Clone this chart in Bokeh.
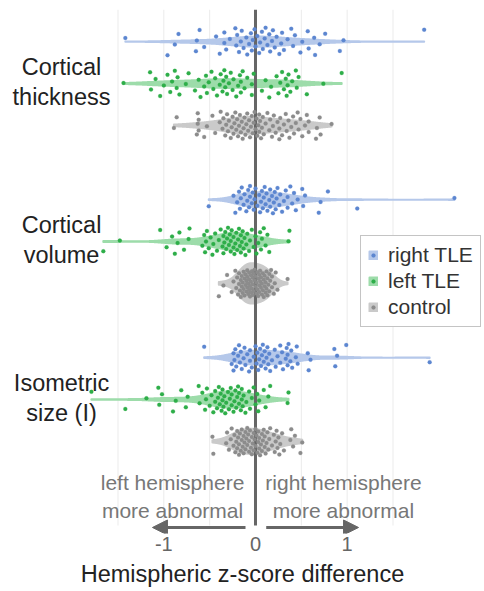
import numpy as np
from bokeh.plotting import figure
from bokeh.models import Range1d, FixedTicker, Legend, LegendItem, Arrow, NormalHead
from bokeh.core.properties import value
from bokeh.embed import file_html
from bokeh.resources import INLINE

# ---------------- data ----------------
measures = ["Cortical\nthickness", "Cortical\nvolume", "Isometric\nsize (I)"]
groups = ["right TLE", "left TLE", "control"]

right_thickness = [-1.42, -0.96, -0.88, -0.84, -0.65, -0.64, -0.61, -0.56, -0.43, -0.39, -0.34, -0.34, -0.32,
                   -0.28, -0.22, -0.21, -0.20, -0.18, -0.16, -0.15, -0.13, -0.10, -0.09, -0.07, -0.05, -0.04,
                   -0.03, -0.01, 0.00, 0.02, 0.04, 0.05, 0.07, 0.08, 0.10, 0.11, 0.13, 0.15, 0.16, 0.18, 0.19,
                   0.21, 0.23, 0.26, 0.28, 0.29, 0.31, 0.35, 0.39, 0.41, 0.43, 0.49, 0.51, 0.57, 0.58, 0.64,
                   0.65, 0.70, 0.76, 0.92, 0.96, 1.84]
right_volume = [-0.51, -0.24, -0.22, -0.20, -0.18, -0.17, -0.16, -0.15, -0.13, -0.12, -0.10, -0.09, -0.08,
                -0.07, -0.06, -0.06, -0.04, -0.03, -0.02, -0.01, 0.00, 0.02, 0.04, 0.05, 0.06, 0.07, 0.08,
                0.09, 0.10, 0.11, 0.12, 0.13, 0.15, 0.16, 0.16, 0.18, 0.19, 0.20, 0.21, 0.22, 0.23, 0.24,
                0.26, 0.27, 0.29, 0.31, 0.33, 0.35, 0.35, 0.38, 0.40, 0.42, 0.44, 0.46, 0.51, 0.52, 0.54,
                0.69, 0.71, 0.79, 1.11, 2.17]
right_isometric = [-0.56, -0.26, -0.24, -0.24, -0.23, -0.22, -0.21, -0.19, -0.18, -0.17, -0.16, -0.15, -0.13,
                   -0.12, -0.11, -0.09, -0.07, -0.06, -0.06, -0.04, -0.02, 0.00, 0.01, 0.02, 0.03, 0.04, 0.05,
                   0.06, 0.07, 0.08, 0.09, 0.10, 0.11, 0.12, 0.13, 0.14, 0.15, 0.16, 0.18, 0.21, 0.22, 0.24,
                   0.27, 0.27, 0.29, 0.30, 0.33, 0.34, 0.35, 0.35, 0.36, 0.38, 0.39, 0.40, 0.44, 0.45, 0.46,
                   0.57, 0.58, 0.60, 0.86, 0.87, 0.89, 0.99, 1.90]

left_thickness = [-1.44, -1.15, -1.14, -1.09, -1.04, -1.00, -0.96, -0.93, -0.91, -0.88, -0.86, -0.85, -0.83,
                  -0.76, -0.73, -0.66, -0.62, -0.60, -0.56, -0.54, -0.53, -0.51, -0.48, -0.46, -0.44, -0.42,
                  -0.39, -0.38, -0.36, -0.35, -0.34, -0.33, -0.32, -0.31, -0.29, -0.27, -0.25, -0.24, -0.21,
                  -0.19, -0.17, -0.16, -0.16, -0.14, -0.12, -0.09, -0.04, -0.04, -0.02, 0.07, 0.11, 0.15,
                  0.17, 0.23, 0.25, 0.27, 0.29, 0.31, 0.33, 0.34, 0.35, 0.36, 0.38, 0.40, 0.44, 0.45, 0.47,
                  0.56, 0.74, 0.94]
left_volume = [-1.66, -1.48, -1.04, -0.97, -0.91, -0.88, -0.85, -0.83, -0.78, -0.73, -0.72, -0.58, -0.56,
               -0.55, -0.54, -0.53, -0.51, -0.49, -0.47, -0.46, -0.44, -0.42, -0.40, -0.38, -0.36, -0.35,
               -0.35, -0.34, -0.33, -0.32, -0.31, -0.30, -0.29, -0.28, -0.27, -0.27, -0.26, -0.24, -0.24,
               -0.23, -0.22, -0.21, -0.20, -0.19, -0.18, -0.17, -0.16, -0.16, -0.15, -0.14, -0.13, -0.12,
               -0.11, -0.10, -0.09, -0.07, -0.06, -0.04, -0.02, 0.00, 0.01, 0.03, 0.05, 0.06, 0.07, 0.09,
               0.11, 0.13, 0.15, 0.36, 0.37]
left_isometric = [-1.79, -1.42, -1.19, -1.06, -1.05, -1.02, -0.90, -0.87, -0.81, -0.76, -0.74, -0.62, -0.61,
                  -0.58, -0.55, -0.54, -0.53, -0.50, -0.48, -0.46, -0.44, -0.44, -0.42, -0.41, -0.40, -0.39,
                  -0.38, -0.37, -0.36, -0.36, -0.35, -0.34, -0.33, -0.32, -0.30, -0.29, -0.28, -0.27, -0.26,
                  -0.26, -0.24, -0.23, -0.22, -0.21, -0.20, -0.19, -0.18, -0.18, -0.16, -0.15, -0.15, -0.14,
                  -0.13, -0.11, -0.10, -0.07, -0.06, -0.04, -0.02, 0.00, 0.02, 0.03, 0.04, 0.09, 0.11, 0.14,
                  0.16, 0.35, 0.36]

control_thickness = [-0.89, -0.86, -0.64, -0.63, -0.63, -0.62, -0.62, -0.56, -0.53, -0.47, -0.44, -0.39, -0.38,
                     -0.36, -0.35, -0.33, -0.32, -0.31, -0.30, -0.29, -0.27, -0.26, -0.25, -0.24, -0.23, -0.22,
                     -0.21, -0.20, -0.19, -0.18, -0.17, -0.16, -0.15, -0.14, -0.13, -0.12, -0.11, -0.10, -0.09,
                     -0.08, -0.07, -0.06, -0.05, -0.04, -0.03, -0.02, -0.01, 0.00, 0.01, 0.02, 0.03, 0.04, 0.04,
                     0.05, 0.06, 0.07, 0.08, 0.09, 0.11, 0.13, 0.15, 0.16, 0.18, 0.19, 0.20, 0.22, 0.24, 0.26,
                     0.26, 0.27, 0.29, 0.31, 0.33, 0.34, 0.36, 0.37, 0.39, 0.41, 0.42, 0.44, 0.46, 0.47, 0.49,
                     0.51, 0.54, 0.56, 0.58, 0.58, 0.66, 0.67, 0.70, 0.71, 0.83]
control_volume = [-0.40, -0.35, -0.31, -0.26, -0.24, -0.22, -0.21, -0.20, -0.19, -0.18, -0.18, -0.17, -0.16,
                  -0.16, -0.15, -0.15, -0.14, -0.14, -0.13, -0.13, -0.12, -0.12, -0.11, -0.11, -0.10, -0.10,
                  -0.09, -0.09, -0.09, -0.08, -0.08, -0.07, -0.07, -0.07, -0.06, -0.06, -0.05, -0.05, -0.05,
                  -0.04, -0.04, -0.03, -0.03, -0.03, -0.02, -0.02, -0.01, -0.01, 0.00, 0.00, 0.01, 0.01, 0.02,
                  0.02, 0.03, 0.03, 0.04, 0.04, 0.04, 0.05, 0.05, 0.06, 0.06, 0.07, 0.07, 0.08, 0.08, 0.09,
                  0.09, 0.10, 0.10, 0.11, 0.11, 0.12, 0.12, 0.13, 0.13, 0.14, 0.15, 0.15, 0.16, 0.17, 0.18,
                  0.18, 0.20, 0.21, 0.22, 0.24, 0.35]
control_isometric = [-0.47, -0.46, -0.32, -0.31, -0.29, -0.27, -0.26, -0.24, -0.23, -0.22, -0.21, -0.20, -0.20,
                     -0.19, -0.18, -0.18, -0.17, -0.16, -0.15, -0.15, -0.14, -0.13, -0.13, -0.12, -0.11, -0.11,
                     -0.10, -0.09, -0.09, -0.08, -0.07, -0.07, -0.06, -0.05, -0.04, -0.04, -0.03, -0.02, -0.02,
                     -0.01, 0.00, 0.00, 0.01, 0.02, 0.03, 0.03, 0.04, 0.04, 0.05, 0.06, 0.07, 0.07, 0.08, 0.09,
                     0.10, 0.10, 0.11, 0.12, 0.13, 0.14, 0.15, 0.16, 0.18, 0.20, 0.21, 0.22, 0.23, 0.24, 0.25,
                     0.26, 0.27, 0.29, 0.31, 0.38, 0.39, 0.41, 0.43, 0.49, 0.51]

series = {
    "right TLE": [right_thickness, right_volume, right_isometric],
    "left TLE": [left_thickness, left_volume, left_isometric],
    "control": [control_thickness, control_volume, control_isometric],
}

x_ticks = [-1, 0, 1]
x_tick_labels = ["-1", "0", "1"]
grid_values = [-1.5, -1.0, -0.5, 0.5, 1.0, 1.5]
x_title = "Hemispheric z-score difference"
direction_notes = ["left hemisphere\nmore abnormal", "right hemisphere\nmore abnormal"]

# ---------------- style ----------------
point_color = {"right TLE": "#5c86d0", "left TLE": "#2eae49", "control": "#8c8c8c"}
violin_color = {"right TLE": "#b5c8ea", "left TLE": "#9ddcaa", "control": "#cacaca"}
FONT = "Liberation Sans"
row_offset = {"right TLE": -0.265, "left TLE": 0.0, "control": 0.265}
HALF_MAX = 0.128      # max half width of a violin (y units)
JITTER = 0.088

X0, X1 = -2.7817, 2.4981
Y_TOP, Y_BOT = -0.4684, 2.8481
GRID_BOTTOM = 2.7975

p = figure(width=484, height=591, x_range=Range1d(X0, X1), y_range=Range1d(Y_BOT, Y_TOP),
           output_backend="svg", toolbar_location=None, y_axis_location=None,
           min_border_left=0, min_border_right=0, min_border_top=9, min_border_bottom=58)
p.outline_line_color = None
p.xgrid.visible = False
p.ygrid.visible = False
p.background_fill_color = "white"

# grid lines
p.segment(x0=grid_values, x1=grid_values, y0=[Y_TOP] * len(grid_values), y1=[GRID_BOTTOM] * len(grid_values),
          line_color="#ebebeb", line_width=1)


def kde_counts(vals, grid):
    v = np.asarray(vals, dtype=float)
    n = len(v)
    sd = v.std(ddof=1)
    q75, q25 = np.percentile(v, [75, 25])
    bw = 1.059 * min(sd, (q75 - q25) / 1.349) * n ** -0.2
    k = np.exp(-0.5 * ((grid[:, None] - v[None, :]) / bw) ** 2).sum(axis=1) / (bw * np.sqrt(2 * np.pi))
    return k  # n * density


curves = {}
gmax = 0
for g in groups:
    for mi, vals in enumerate(series[g]):
        grid = np.linspace(min(vals), max(vals), 300)
        d = kde_counts(vals, grid)
        curves[(g, mi)] = (grid, d)
        gmax = max(gmax, d.max())

PHI = 0.6180339887
patch_r = {}
pts = {}
for gi, g in enumerate(groups):
    xs, ys = [], []
    px, py = [], []
    for mi, vals in enumerate(series[g]):
        grid, d = curves[(g, mi)]
        w = d / gmax * HALF_MAX
        yc = mi + row_offset[g]
        xs.append(np.concatenate([grid, grid[::-1]]).tolist())
        ys.append(np.concatenate([yc - w, (yc + w)[::-1]]).tolist())
        for i, v in enumerate(vals):
            u = ((i * PHI + 0.37 * (gi * 3 + mi + 1)) % 1.0) * 2 - 1
            px.append(v)
            py.append(yc + JITTER * u)
    c = violin_color[g]
    patch_r[g] = p.patches(xs=xs, ys=ys, fill_color=c, line_color=c, line_width=2, line_join="round")
    pts[g] = (px, py)

# zero line
p.segment(x0=[0], x1=[0], y0=[Y_TOP], y1=[GRID_BOTTOM], line_color="#666666", line_width=3)

scat_r = {}
for g in groups:
    px, py = pts[g]
    scat_r[g] = p.scatter(x=px, y=py, size=4.0, fill_color=point_color[g], line_color=point_color[g],
                          line_width=0.2)

# category labels
p.text(x=[-2.116] * 3, y=[-0.01, 0.99, 1.99], text=measures, text_font=value(FONT), text_font_size="23.5px",
       text_color="#222222", text_align="center", text_baseline="middle", text_line_height=1.16)

# direction notes
p.text(x=[-0.905, 0.96], y=[2.614, 2.614], text=direction_notes, text_font=value(FONT), text_font_size="21px",
       text_color="#777777", text_align="center", text_baseline="middle", text_line_height=1.22)

ARROW_Y = 2.81
for xs_, xe_ in [(-0.109, -1.124), (0.117, 1.124)]:
    p.add_layout(Arrow(end=NormalHead(size=15, fill_color="#666666", line_color="#666666", line_width=1),
                       x_start=xs_, y_start=ARROW_Y, x_end=xe_, y_end=ARROW_Y,
                       line_color="#666666", line_width=3))

# x axis
ax = p.xaxis[0]
ax.ticker = FixedTicker(ticks=x_ticks)
ax.major_label_overrides = {t: l for t, l in zip(x_ticks, x_tick_labels)}
ax.axis_line_color = None
ax.major_tick_line_color = None
ax.minor_tick_line_color = None
ax.major_tick_out = 0
ax.major_tick_in = 0
ax.major_label_standoff = 3
ax.major_label_text_font = FONT
ax.major_label_text_font_size = "20px"
ax.major_label_text_color = "#666666"
ax.axis_label = x_title
ax.axis_label_standoff = 7
ax.axis_label_text_font = FONT
ax.axis_label_text_font_size = "23.5px"
ax.axis_label_text_font_style = "normal"
ax.axis_label_text_color = "#222222"

legend = Legend(items=[LegendItem(label=g, renderers=[patch_r[g], scat_r[g]]) for g in groups],
                location=(360, 206), orientation="vertical",
                label_text_font=FONT, label_text_font_size="21px", label_text_color="#333333",
                glyph_width=10, glyph_height=10, label_standoff=10, padding=7, spacing=2, margin=0,
                border_line_color="#8a8a8a", border_line_width=1, background_fill_color="white",
                background_fill_alpha=1.0)
p.add_layout(legend)

open("out.html", "w").write(file_html(p, INLINE))
